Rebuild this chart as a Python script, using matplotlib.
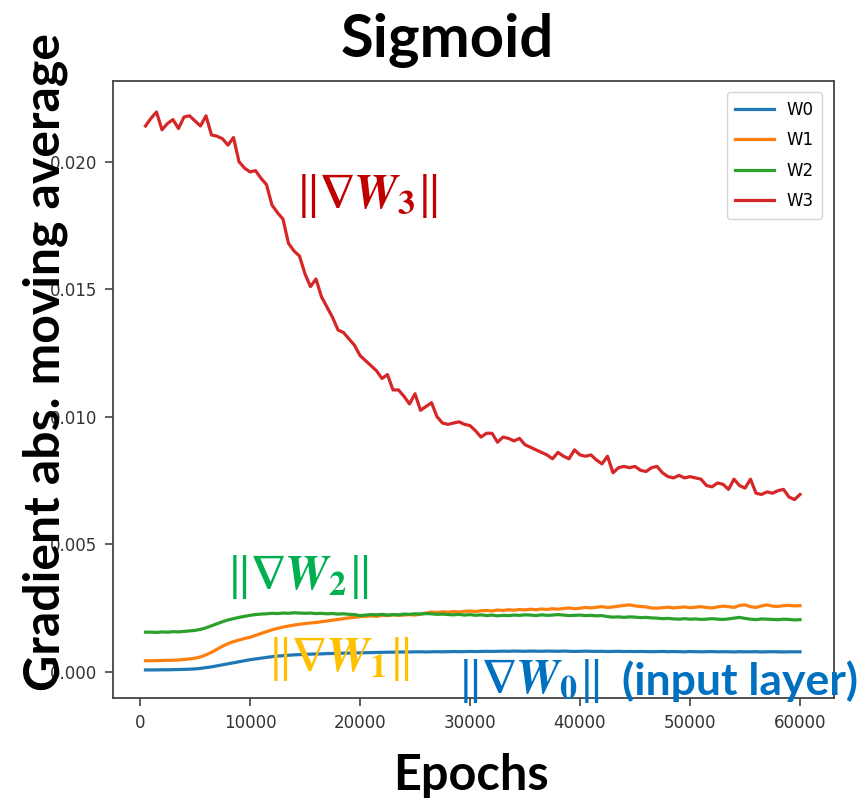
import matplotlib
matplotlib.use("Agg")
import matplotlib.pyplot as plt
import numpy as np

# ---------------- data (values in units of 1e-3) ----------------
epochs = list(range(500, 60001, 500))

w3 = [21.4, 21.7, 21.95, 21.25, 21.5, 21.65, 21.3, 21.75, 21.8, 21.6,
      21.4, 21.8, 21.05, 21.0, 20.9, 20.65, 20.95, 20.0, 19.75, 19.6,
      19.65, 19.35, 19.1, 18.3, 18.0, 17.75, 16.8, 16.5, 16.3, 15.6,
      15.1, 15.4, 14.7, 14.3, 13.9, 13.4, 13.3, 13.05, 12.8, 12.4,
      12.2, 12.0, 11.8, 11.5, 11.65, 11.05, 11.05, 10.8, 10.5, 10.9,
      10.25, 10.4, 10.55, 10.0, 9.75, 9.7, 9.75, 9.8, 9.7, 9.65,
      9.45, 9.2, 9.35, 9.35, 9.0, 9.2, 9.15, 9.05, 9.15, 8.9,
      8.8, 8.7, 8.6, 8.5, 8.35, 8.6, 8.45, 8.35, 8.7, 8.5,
      8.45, 8.5, 8.3, 8.15, 8.45, 7.8, 8.0, 8.05, 8.0, 8.05,
      7.9, 7.85, 8.0, 8.05, 7.8, 7.65, 7.6, 7.7, 7.6, 7.65,
      7.6, 7.55, 7.3, 7.25, 7.4, 7.35, 7.15, 7.55, 7.3, 7.2,
      7.55, 7.0, 6.95, 7.05, 7.0, 7.1, 7.15, 6.85, 6.75, 6.95]

w0 = [0.07, 0.07, 0.07, 0.075, 0.075, 0.08, 0.085, 0.09, 0.10, 0.11,
      0.13, 0.16, 0.19, 0.23, 0.27, 0.31, 0.35, 0.39, 0.43, 0.47,
      0.50, 0.53, 0.56, 0.59, 0.61, 0.63, 0.645, 0.66, 0.67, 0.68,
      0.69, 0.695, 0.70, 0.71, 0.715, 0.72, 0.725, 0.73, 0.735, 0.74,
      0.745, 0.75, 0.755, 0.76, 0.765, 0.765, 0.77, 0.775, 0.775, 0.78,
      0.78, 0.775, 0.78, 0.785, 0.78, 0.785, 0.79, 0.785, 0.79, 0.795,
      0.79, 0.795, 0.80, 0.795, 0.80, 0.805, 0.80, 0.81, 0.805, 0.80,
      0.81, 0.805, 0.80, 0.81, 0.805, 0.80, 0.81, 0.80, 0.795, 0.80,
      0.805, 0.80, 0.795, 0.80, 0.79, 0.795, 0.80, 0.79, 0.795, 0.79,
      0.795, 0.79, 0.785, 0.79, 0.795, 0.785, 0.79, 0.785, 0.78, 0.79,
      0.785, 0.78, 0.785, 0.79, 0.78, 0.785, 0.78, 0.775, 0.785, 0.78,
      0.78, 0.785, 0.775, 0.78, 0.785, 0.78, 0.775, 0.78, 0.78, 0.78]

w1 = [0.43, 0.43, 0.435, 0.44, 0.445, 0.45, 0.46, 0.48, 0.50, 0.53,
      0.58, 0.66, 0.76, 0.88, 1.00, 1.10, 1.18, 1.24, 1.30, 1.35,
      1.42, 1.50, 1.57, 1.64, 1.70, 1.75, 1.79, 1.83, 1.86, 1.89,
      1.91, 1.93, 1.96, 1.99, 2.02, 2.05, 2.08, 2.11, 2.13, 2.16,
      2.17, 2.19, 2.17, 2.21, 2.20, 2.23, 2.21, 2.22, 2.24, 2.22,
      2.26, 2.30, 2.34, 2.32, 2.35, 2.33, 2.36, 2.34, 2.37, 2.38,
      2.36, 2.39, 2.40, 2.38, 2.42, 2.40, 2.43, 2.41, 2.44, 2.42,
      2.45, 2.43, 2.46, 2.44, 2.47, 2.45, 2.48, 2.50, 2.47, 2.49,
      2.52, 2.50, 2.53, 2.55, 2.52, 2.54, 2.57, 2.60, 2.62, 2.58,
      2.56, 2.54, 2.50, 2.49, 2.51, 2.53, 2.50, 2.52, 2.54, 2.51,
      2.53, 2.55, 2.52, 2.50, 2.54, 2.57, 2.55, 2.52, 2.60, 2.62,
      2.55, 2.52, 2.58, 2.62, 2.57, 2.56, 2.59, 2.60, 2.58, 2.59]

w2 = [1.55, 1.55, 1.54, 1.56, 1.55, 1.57, 1.56, 1.58, 1.60, 1.62,
      1.66, 1.72, 1.80, 1.88, 1.96, 2.03, 2.08, 2.13, 2.17, 2.21,
      2.24, 2.26, 2.27, 2.29, 2.28, 2.30, 2.29, 2.31, 2.30, 2.29,
      2.30, 2.28, 2.29, 2.27, 2.28, 2.26, 2.27, 2.25, 2.24, 2.20,
      2.22, 2.24, 2.23, 2.25, 2.22, 2.24, 2.23, 2.26, 2.25, 2.27,
      2.26, 2.28, 2.27, 2.25, 2.26, 2.24, 2.23, 2.25, 2.22, 2.24,
      2.21, 2.23, 2.20, 2.22, 2.19, 2.21, 2.20, 2.22, 2.21, 2.23,
      2.22, 2.20, 2.23, 2.21, 2.22, 2.24, 2.22, 2.20, 2.21, 2.22,
      2.20, 2.21, 2.19, 2.20, 2.16, 2.14, 2.15, 2.13, 2.15, 2.14,
      2.12, 2.13, 2.11, 2.10, 2.08, 2.09, 2.07, 2.06, 2.08, 2.06,
      2.07, 2.05, 2.06, 2.08, 2.06, 2.05, 2.07, 2.10, 2.13, 2.09,
      2.06, 2.04, 2.07, 2.06, 2.05, 2.04, 2.06, 2.05, 2.03, 2.04]

series_names = ["W0", "W1", "W2", "W3"]
series_values = [w0, w1, w2, w3]
series_colors = ["#1f77b4", "#ff7f0e", "#2ca02c", "#d62728"]

x_ticks = [0, 10000, 20000, 30000, 40000, 50000, 60000]
y_ticks = [0.0, 0.005, 0.010, 0.015, 0.020]
y_ticklabels = ["0.000", "0.005", "0.010", "0.015", "0.020"]

title_text = "Sigmoid"
xlabel_text = "Epochs"
ylabel_text = "Gradient abs. moving average"

# ---------------- figure ----------------
plt.rcParams["mathtext.fontset"] = "stix"
TEXT_FONT = ["Lato", "DejaVu Sans"]

W, H = 858, 802
fig = plt.figure(figsize=(W / 100, H / 100), dpi=100)
ax = fig.add_axes([112.7 / W, 1 - 698.3 / H, (834 - 112.7) / W, (698.3 - 80.7) / H])

x = np.array(epochs)
for name, vals, col in zip(series_names, series_values, series_colors):
    ax.plot(x, np.array(vals) * 1e-3, color=col, lw=2.3, label=name)

ax.set_xlim(-2480, 63090)
ax.set_ylim(-0.001043, 0.023176)
ax.set_xticks(x_ticks)
ax.set_xticklabels([str(t) for t in x_ticks])
ax.set_yticks(y_ticks)
ax.set_yticklabels(y_ticklabels)
ax.tick_params(labelsize=12, labelcolor="#333333", length=6, width=1.2,
               color="#444444", pad=5)
for sp in ax.spines.values():
    sp.set_color("#444444")
    sp.set_linewidth(1.3)

leg = ax.legend(loc="upper right", fontsize=12, handlelength=2.3,
                labelspacing=0.75, borderpad=0.5, borderaxespad=0.7)

# annotations
MATH_SIZE = 35
ax.text(20545, 0.01866, r"$\Vert\boldsymbol{\nabla W}_{\mathbf{3}}\Vert$",
        color="#C00000", fontsize=MATH_SIZE, ha="center", va="center")
ax.text(14270, 0.00371, r"$\Vert\boldsymbol{\nabla W}_{\mathbf{2}}\Vert$",
        color="#00B050", fontsize=MATH_SIZE, ha="center", va="center")
ax.text(18000, 0.0005, r"$\Vert\boldsymbol{\nabla W}_{\mathbf{1}}\Vert$",
        color="#FFC000", fontsize=MATH_SIZE, ha="center", va="center")
ax.text(28790, -0.00036, r"$\Vert\boldsymbol{\nabla W}_{\mathbf{0}}\Vert$",
        color="#0070C0", fontsize=MATH_SIZE, ha="left", va="center", clip_on=False)
ax.text(43790, -0.00036, "(input layer)", family=TEXT_FONT, fontweight="bold",
        color="#0070C0", fontsize=32, ha="left", va="center", clip_on=False)

fig.text(447 / W, 1 - 57 / H, title_text, family=TEXT_FONT, fontweight="bold",
         fontsize=43, ha="center", va="baseline")
fig.text(471 / W, 1 - 790 / H, xlabel_text, family=TEXT_FONT, fontweight="bold",
         fontsize=35, ha="center", va="baseline")
fig.text(60 / W, 1 - 362 / H, ylabel_text, family=TEXT_FONT, fontweight="bold",
         fontsize=36, ha="center", va="baseline", rotation=90,
         rotation_mode="anchor")

fig.savefig("out.png", dpi=100)
